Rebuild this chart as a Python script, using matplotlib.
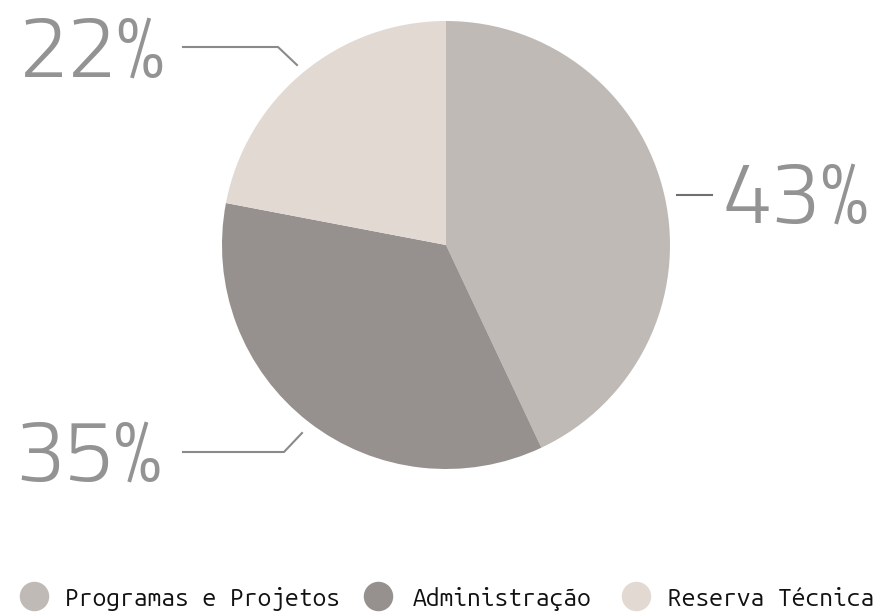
import matplotlib
matplotlib.use("Agg")
import matplotlib.pyplot as plt

categories = ["Programas e Projetos", "Administração", "Reserva Técnica"]
values = [43, 35, 22]
labels = ["43%", "35%", "22%"]
colors = ["#bfbab6", "#96918e", "#e2d9d3"]

fig = plt.figure(figsize=(8.86, 6.14), dpi=100)
ax = fig.add_axes([0, 0, 1, 1])

cx, cy, r = 446, 245, 224
ax.pie(values, colors=colors, startangle=-90, counterclock=True, center=(cx, cy), radius=r,
       wedgeprops=dict(linewidth=0), frame=True)
ax.set_xlim(0, 886)
ax.set_ylim(614, 0)
ax.axis("off")

lc = "#8a8a8a"
lf = dict(fontsize=63, color="#939393", family=["Titillium Web", "DejaVu Sans"], fontweight=300,
          ha="left", va="baseline")
ax.plot([677, 712], [195, 195], color="#6f6f6f", lw=1.5)
ax.text(723, 223, labels[0], **lf)
ax.plot([183, 284, 302], [452, 452, 433], color=lc, lw=1.5)
ax.text(15, 481, labels[1], **lf)
ax.plot([183, 278, 297], [47, 47, 65], color=lc, lw=1.5)
ax.text(19, 77, labels[2], **lf)

lx = [34, 378, 636]
tx = [65, 413, 668]
for x, t, cat, col in zip(lx, tx, categories, colors):
    ax.scatter([x], [596], s=450, color=col, linewidths=0)
    ax.text(t, 606, cat, fontsize=17.7, family=["Ubuntu Mono", "DejaVu Sans Mono"],
            fontweight=400, color="#111111", ha="left", va="baseline")

fig.savefig("out.png", dpi=100)
